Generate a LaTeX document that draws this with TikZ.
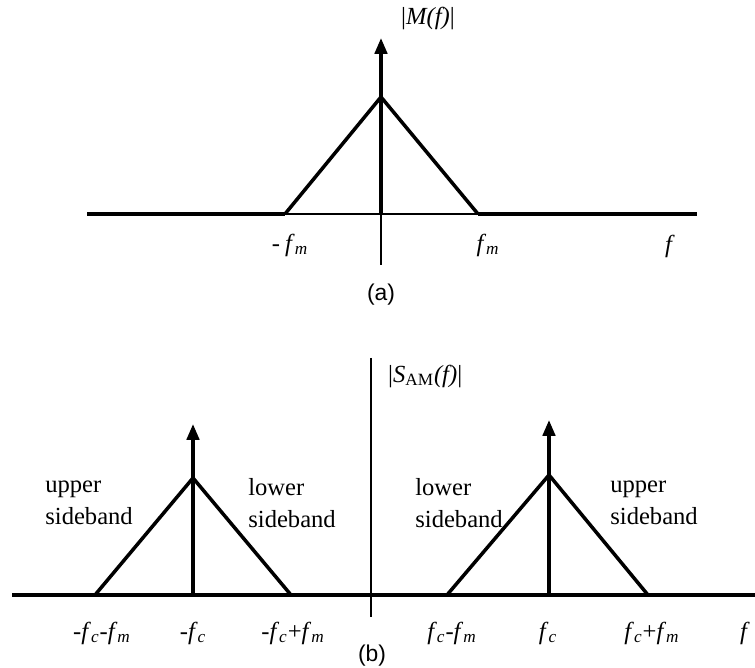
\documentclass[tikz,border=0pt]{standalone}
\usepackage{fontspec}
\setmainfont{Liberation Serif}
\newfontfamily\capfont{Liberation Sans}
\usetikzlibrary{arrows.meta}
\newcommand{\fsub}[1]{\textit{f}\textsubscript{\textit{#1}}}

\begin{document}
\begin{tikzpicture}[x=.02cm,y=-.02cm,font=\fontsize{14}{18}\selectfont,>={Triangle[length=9pt,width=7pt]}]
    \useasboundingbox (0,0) rectangle (755,668);
    % (a) message spectrum
    \coordinate (aL) at (87,214); \coordinate (aR) at (697,214);
    \coordinate (aO) at (381,214); \coordinate (aBot) at (381,265);
    \coordinate (aTip) at (381,38); \coordinate (aPk) at (381,97);
    \coordinate (mL) at (285,214); \coordinate (mR) at (478,214);
    \draw[line width=2.2pt] (aL)--(mL) (mR)--(aR);
    \draw[line width=1.2pt] (mL)--(mR);
    \draw[line width=1pt] (aO)--(aBot);
    \draw[line width=2pt,->] (aO)--(aTip);
    \draw[line width=2pt,line join=miter] (mL)--(aPk)--(mR);
    \node[anchor=west] (Mlab) at (395,19) {|\textit{M(f)}|};
    \node (mLlab) at (290,245) {-\kern3pt\fsub{m}};
    \node (mRlab) at (488,245) {\fsub{m}};
    \node (fa) at (670,246) {\textit{f}};
    \node[font=\capfont\fontsize{13}{15}\selectfont] (capa) at (381,295) {(a)};
    % (b) AM spectrum
    \coordinate (bL) at (12,595); \coordinate (bR) at (755,595);
    \coordinate (bTop) at (371,358); \coordinate (bBot) at (371,617);
    \draw[line width=1.8pt] (bL)--(bR);
    \draw[line width=.8pt] (bTop)--(bBot);
    % left band
    \coordinate (lA) at (95,595); \coordinate (lC) at (193,595); \coordinate (lB) at (291,595);
    \coordinate (lPk) at (193,478); \coordinate (lTip) at (193,424);
    \draw[line width=2pt,line join=miter] (lA)--(lPk)--(lB);
    \draw[line width=2pt,->] (lC)--(lTip);
    % right band
    \coordinate (rA) at (447,595); \coordinate (rC) at (549,595); \coordinate (rB) at (648,595);
    \coordinate (rPk) at (549,475); \coordinate (rTip) at (549,420);
    \draw[line width=2pt,line join=miter] (rA)--(rPk)--(rB);
    \draw[line width=2pt,->] (rC)--(rTip);
    \node[anchor=west] (Slab) at (382,376) {|\textit{S}\textsubscript{AM}\textit{(f)}|};
    \node[anchor=west,align=left,inner sep=0pt] (usbL) at (45,503) {upper\\sideband};
    \node[anchor=west,align=left,inner sep=0pt] (lsbL) at (248,503) {lower\\sideband};
    \node[anchor=west,align=left,inner sep=0pt] (lsbR) at (415,503) {lower\\sideband};
    \node[anchor=west,align=left,inner sep=0pt] (usbR) at (610,503) {upper\\sideband};
    \node (l1) at (102,633) {-\fsub{c}-\fsub{m}};
    \node (l2) at (193,633) {-\fsub{c}};
    \node (l3) at (293,633) {-\fsub{c}+\fsub{m}};
    \node (l4) at (452,633) {\fsub{c}-\fsub{m}};
    \node (l5) at (548,633) {\fsub{c}};
    \node (l6) at (652,633) {\fsub{c}+\fsub{m}};
    \node (fb) at (745,633) {\textit{f}};
    \node[font=\capfont\fontsize{13}{15}\selectfont] (capb) at (372,656) {(b)};
\end{tikzpicture}
\end{document}
